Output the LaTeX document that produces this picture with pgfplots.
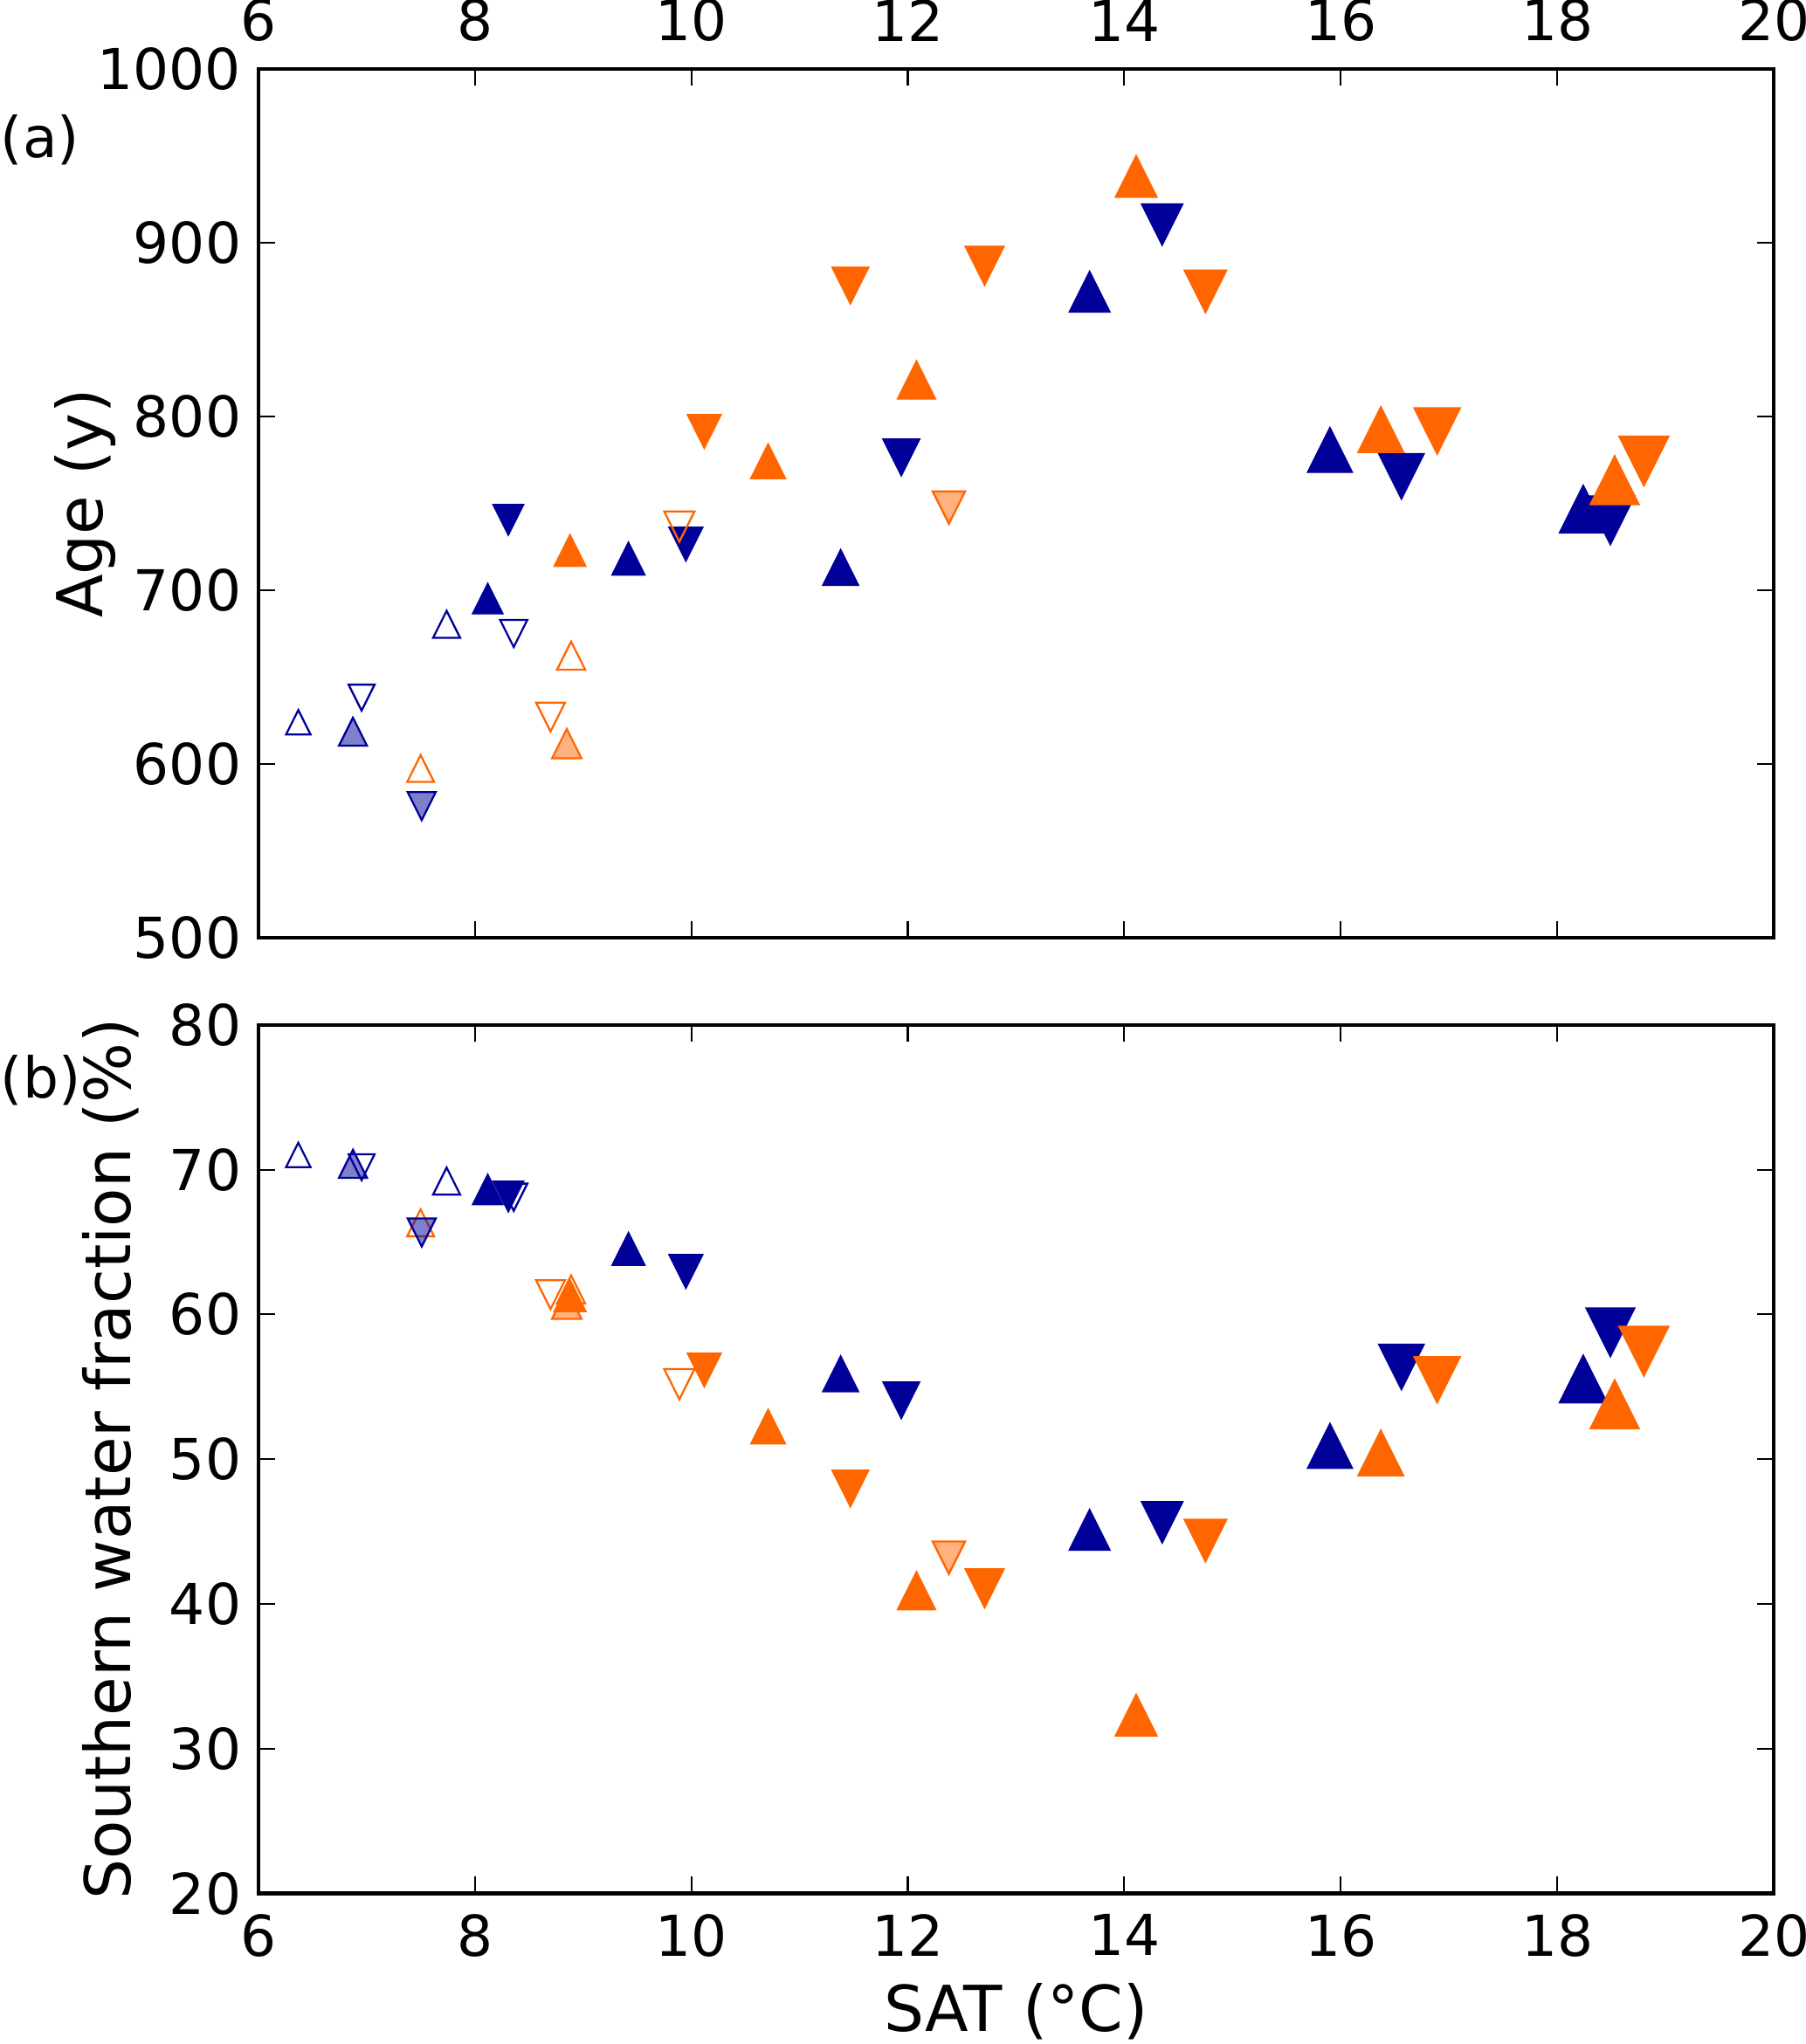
\documentclass[border=0pt]{standalone}
\usepackage{fontspec}
\setmainfont{DejaVu Sans}
\usepackage{pgfplots}
\usepackage{pgfplotstable}
\pgfplotsset{compat=1.18}
\definecolor{cb}{RGB}{0,0,153}
\definecolor{co}{RGB}{255,102,0}
\newcommand\tl{\fontsize{15.5}{18}\selectfont}
\newcommand\lab{\fontsize{17.4}{20}\selectfont}

\pgfdeclareplotmark{tu}{%
  \pgfpathmoveto{\pgfqpoint{0pt}{\pgfplotmarksize}}%
  \pgfpathlineto{\pgfqpoint{-\pgfplotmarksize}{-\pgfplotmarksize}}%
  \pgfpathlineto{\pgfqpoint{\pgfplotmarksize}{-\pgfplotmarksize}}%
  \pgfpathclose\pgfusepathqfillstroke}
\pgfdeclareplotmark{td}{%
  \pgfpathmoveto{\pgfqpoint{0pt}{-\pgfplotmarksize}}%
  \pgfpathlineto{\pgfqpoint{-\pgfplotmarksize}{\pgfplotmarksize}}%
  \pgfpathlineto{\pgfqpoint{\pgfplotmarksize}{\pgfplotmarksize}}%
  \pgfpathclose\pgfusepathqfillstroke}
\pgfdeclareplotmark{tuo}{%
  \pgfpathmoveto{\pgfqpoint{0pt}{\pgfplotmarksize}}%
  \pgfpathlineto{\pgfqpoint{-\pgfplotmarksize}{-\pgfplotmarksize}}%
  \pgfpathlineto{\pgfqpoint{\pgfplotmarksize}{-\pgfplotmarksize}}%
  \pgfpathclose\pgfusepathqstroke}
\pgfdeclareplotmark{tdo}{%
  \pgfpathmoveto{\pgfqpoint{0pt}{-\pgfplotmarksize}}%
  \pgfpathlineto{\pgfqpoint{-\pgfplotmarksize}{\pgfplotmarksize}}%
  \pgfpathlineto{\pgfqpoint{\pgfplotmarksize}{\pgfplotmarksize}}%
  \pgfpathclose\pgfusepathqstroke}

% x = SAT, ya = age, yb = southern water fraction, s = marker half size (pt)
\pgfplotstableread{
x ya yb s
6.37 624.0 71.02 3.37
7.74 680.4 69.21 3.73
}\BOU
\pgfplotstableread{
x ya yb s
6.955 638.2 70.17 3.57
8.36 675.1 68.10 3.73
}\BOD
\pgfplotstableread{
x ya yb s
6.875 618.6 70.41 3.85
}\BSU
\pgfplotstableread{
x ya yb s
7.51 575.7 65.66 3.85
}\BSD
\pgfplotstableread{
x ya yb s
7.50 597.4 66.33 3.69
8.89 662.4 61.73 3.85
}\OOU
\pgfplotstableread{
x ya yb s
8.70 627.0 61.37 3.97
9.89 736.7 55.18 4.17
}\OOD
\pgfplotstableread{
x ya yb s
8.85 611.7 60.71 4.05
}\OSU
\pgfplotstableread{
x ya yb s
12.38 747.6 43.19 4.45
}\OSD
\pgfplotstableread{
x ya yb s
8.12 695.3 68.64 4.22
9.42 718.3 64.54 4.58
11.38 713.2 55.91 4.98
13.68 872.0 45.13 5.66
15.90 780.9 50.93 6.22
18.24 746.8 55.55 6.62
}\BFU
\pgfplotstableread{
x ya yb s
8.31 740.5 68.14 4.26
9.95 726.5 62.96 4.70
11.94 776.4 54.06 5.10
14.35 910.5 45.63 5.74
16.56 765.5 56.36 6.30
18.49 740.2 58.75 6.74
}\BFD
\pgfplotstableread{
x ya yb s
8.88 723.0 61.31 4.42
10.71 774.4 52.26 4.82
12.08 821.2 40.92 5.30
14.11 938.4 32.33 5.78
16.37 792.6 50.44 6.34
18.53 763.5 53.81 6.78
}\OFU
\pgfplotstableread{
x ya yb s
10.12 791.4 56.15 4.70
11.47 875.4 47.96 5.10
12.71 886.8 41.07 5.42
14.75 872.0 44.36 5.90
16.89 791.6 55.47 6.42
18.80 774.3 57.45 6.90
}\OFD

\pgfplotsset{
  base/.style={
    scale only axis, width=416.5pt, height=238.7pt,
    anchor=south west,
    xmin=6, xmax=20, xtick={6,8,...,20},
    tick align=inside, major tick length=4.6pt,
    every tick/.style={black, line width=0.5pt},
    axis line style={line width=1pt},
    tick label style={font=\tl, inner sep=0pt},
    yticklabel shift=4.5pt,
    /pgf/number format/assume math mode=true,
    /pgf/number format/set thousands separator={},
  },
  pts/.style n args={4}{scatter, only marks, mark=#1,
    scatter/use mapped color={draw=#2, fill=#3},
    mark options={line width=#4},
    visualization depends on={\thisrow{s}\as\ms},
    scatter/@pre marker code/.append style={/tikz/mark size=\ms pt}},
  semi/.style n args={3}{only marks, mark=#1, mark size=#3,
    mark options={draw=#2, fill=#2, fill opacity=0.5, line width=0.55pt}},
}

\newcommand\allplots[1]{%
  \addplot[pts={tuo}{cb}{white}{0.55pt}] table[x=x,y=#1] {\BOU};
  \addplot[pts={tdo}{cb}{white}{0.55pt}] table[x=x,y=#1] {\BOD};
  \addplot[pts={tu}{cb}{cb}{0.3pt}] table[x=x,y=#1] {\BFU};
  \addplot[pts={td}{cb}{cb}{0.3pt}] table[x=x,y=#1] {\BFD};
  \addplot[pts={tuo}{co}{white}{0.55pt}] table[x=x,y=#1] {\OOU};
  \addplot[pts={tdo}{co}{white}{0.55pt}] table[x=x,y=#1] {\OOD};
  \addplot[semi={tu}{cb}{3.85pt}] table[x=x,y=#1] {\BSU};
  \addplot[semi={td}{cb}{3.85pt}] table[x=x,y=#1] {\BSD};
  \addplot[semi={tu}{co}{4.05pt}] table[x=x,y=#1] {\OSU};
  \addplot[semi={td}{co}{4.45pt}] table[x=x,y=#1] {\OSD};
  \addplot[pts={tu}{co}{co}{0.3pt}] table[x=x,y=#1] {\OFU};
  \addplot[pts={td}{co}{co}{0.3pt}] table[x=x,y=#1] {\OFD};
}

\begin{document}
\begin{tikzpicture}
\useasboundingbox (0,0) rectangle (496.08pt,561.84pt);
\begin{axis}[base, at={(70.97pt,304.1pt)},
  ymin=500, ymax=1000, ytick={500,600,...,1000},
  xticklabel pos=upper, xticklabel shift=7.5pt,
  ylabel={Age (y)},
  every axis y label/.style={at={(axis description cs:-0.1024,0.5)}, rotate=90, anchor=base, font=\lab, inner sep=0pt},
  extra description/.code={\node[anchor=west, inner sep=0pt, font=\tl] at (-0.1704,0.9187) {(a)};},
]
\allplots{ya}
\end{axis}
\begin{axis}[base, at={(70.97pt,41.4pt)},
  ymin=20, ymax=80, ytick={20,30,...,80},
  xticklabel pos=lower, xticklabel shift=5.6pt,
  xlabel={SAT (°C)},
  ylabel={Southern water fraction (\%)},
  every axis x label/.style={at={(axis description cs:0.5,-0.1585)}, anchor=base, font=\lab, inner sep=0pt},
  every axis y label/.style={at={(axis description cs:-0.084,0.5)}, rotate=90, anchor=base, font=\lab, inner sep=0pt},
  extra description/.code={\node[anchor=west, inner sep=0pt, font=\tl] at (-0.1704,0.9367) {(b)};},
]
\allplots{yb}
\end{axis}
\end{tikzpicture}
\end{document}
